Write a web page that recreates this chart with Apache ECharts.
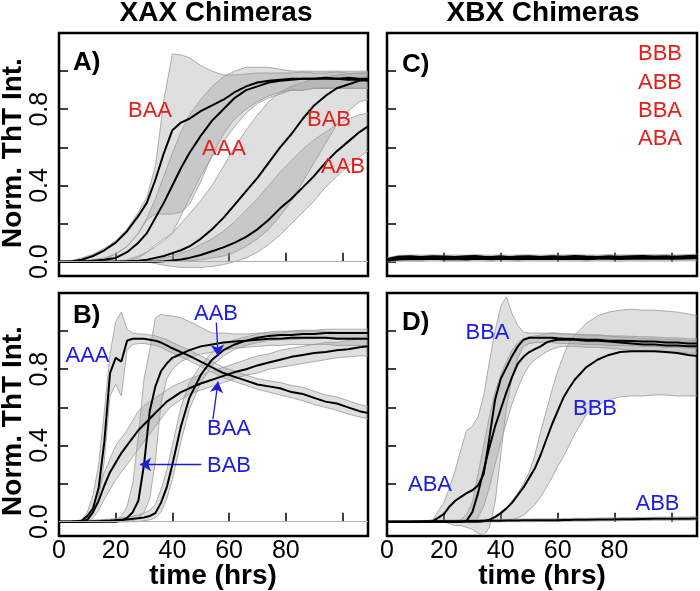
<!DOCTYPE html>
<html>
<head>
<meta charset="utf-8">
<script src="https://cdn.jsdelivr.net/npm/echarts@6/dist/echarts.min.js"></script>
<style>html,body{margin:0;padding:0;background:#fff}#c{width:700px;height:591px}</style>
</head>
<body>
<div id="c"></div>
<script>
// ---------- tick values ----------
const xTicks = [0, 20, 40, 60, 80, 100];
const xLabels = [0, 20, 40, 60, 80];
const yTicks = [0, 0.2, 0.4, 0.6, 0.8, 1.0];
const yLabels = [0, 0.4, 0.8];

// ---------- Panel A (XAX, red labels) ----------
const hoursA = [0,4,8,12,16,20,24,28,31,34,37,40,43,46,50,54,58,62,66,70,74,78,82,86,90,94,98,102,106,109];
const aBAA   = [0,0,0.01,0.03,0.06,0.10,0.16,0.24,0.31,0.43,0.57,0.69,0.73,0.75,0.79,0.82,0.85,0.89,0.92,0.94,0.95,0.955,0.96,0.96,0.96,0.965,0.96,0.965,0.96,0.96];
const aBAAlo = [0,0,0,0.005,0.01,0.04,0.08,0.15,0.22,0.25,0.25,0.25,0.26,0.30,0.42,0.56,0.67,0.75,0.80,0.84,0.87,0.89,0.90,0.90,0.91,0.91,0.91,0.91,0.91,0.91];
const aBAAhi = [0,0.005,0.02,0.04,0.07,0.11,0.17,0.26,0.34,0.50,0.85,1.09,1.085,1.07,1.03,1.0,0.98,0.98,0.985,0.99,0.99,0.99,0.99,0.995,0.99,0.99,0.995,0.99,0.99,0.99];
const aAAA   = [0,0,0,0.005,0.01,0.02,0.05,0.10,0.15,0.23,0.31,0.40,0.49,0.57,0.66,0.74,0.80,0.86,0.90,0.92,0.94,0.95,0.955,0.96,0.96,0.96,0.96,0.955,0.955,0.95];
const aAAAlo = [0,0,0,0,0,0,0,0.02,0.05,0.09,0.12,0.15,0.24,0.33,0.45,0.55,0.63,0.71,0.78,0.83,0.86,0.88,0.90,0.90,0.91,0.91,0.91,0.91,0.91,0.91];
const aAAAhi = [0,0,0.005,0.01,0.02,0.04,0.08,0.15,0.23,0.33,0.45,0.57,0.68,0.77,0.85,0.92,0.97,1.0,1.02,1.02,1.02,1.01,1.0,1.0,1.0,1.0,1.0,1.0,1.0,1.0];
const aBAB   = [0,0,0,0,0,0,0.002,0.005,0.01,0.02,0.03,0.045,0.06,0.08,0.12,0.17,0.23,0.30,0.37,0.44,0.52,0.60,0.67,0.75,0.82,0.87,0.91,0.93,0.95,0.955];
const aBABlo = [0,0,0,0,0,0,0,0,0,0,0,0,0.002,0.005,0.01,0.02,0.03,0.05,0.08,0.12,0.17,0.24,0.32,0.42,0.52,0.62,0.72,0.79,0.84,0.85];
const aBABhi = [0,0,0,0,0,0,0.01,0.03,0.05,0.08,0.11,0.15,0.2,0.25,0.32,0.40,0.50,0.60,0.69,0.77,0.84,0.89,0.92,0.94,0.96,0.97,0.98,0.985,0.99,0.99];
const aAAB   = [0,0,0,0,0,0,0,0,0,0,0.003,0.007,0.012,0.02,0.035,0.055,0.075,0.10,0.13,0.17,0.22,0.28,0.33,0.39,0.45,0.52,0.58,0.63,0.68,0.71];
const aAABlo = [0,0,0,0,0,0,0,0,0,-0.01,-0.018,-0.025,-0.03,-0.03,-0.03,-0.025,-0.015,0,0.02,0.05,0.09,0.14,0.2,0.26,0.32,0.39,0.45,0.5,0.55,0.58];
const aAABhi = [0,0,0,0,0,0,0,0,0.005,0.01,0.02,0.03,0.045,0.06,0.09,0.12,0.16,0.21,0.27,0.33,0.40,0.47,0.53,0.59,0.64,0.68,0.72,0.75,0.77,0.78];

// ---------- Panel C (XBX, flat) ----------
const cBBB = [0.014,0.026,0.028,0.025,0.029,0.027,0.025,0.028,0.03,0.026,0.025,0.028,0.024,0.027,0.029,0.025,0.028,0.026,0.03,0.027,0.025,0.029,0.026,0.028,0.03,0.027,0.029,0.026,0.03,0.031];
const cABB = [0.006,0.012,0.014,0.013,0.015,0.013,0.014,0.012,0.015,0.014,0.013,0.015,0.014,0.013,0.015,0.014,0.016,0.014,0.015,0.013,0.015,0.016,0.014,0.015,0.016,0.015,0.017,0.016,0.017,0.018];
const cBBA = [0.01,0.021,0.022,0.024,0.022,0.023,0.021,0.023,0.024,0.022,0.023,0.024,0.023,0.022,0.024,0.023,0.023,0.025,0.024,0.023,0.025,0.024,0.023,0.025,0.024,0.025,0.024,0.026,0.025,0.026];
const cABA = [0.008,0.017,0.019,0.018,0.02,0.019,0.021,0.019,0.02,0.021,0.019,0.02,0.019,0.021,0.02,0.019,0.021,0.02,0.021,0.02,0.022,0.021,0.02,0.022,0.021,0.022,0.021,0.022,0.023,0.023];
const cLo  = [0,0.002,0.003,0.002,0.004,0.003,0.002,0.003,0.004,0.003,0.002,0.004,0.003,0.002,0.004,0.003,0.003,0.004,0.003,0.002,0.004,0.003,0.003,0.004,0.003,0.004,0.003,0.004,0.004,0.005];
const cHi  = [0.02,0.033,0.035,0.034,0.036,0.034,0.035,0.034,0.037,0.035,0.034,0.036,0.034,0.035,0.036,0.034,0.036,0.035,0.037,0.035,0.034,0.037,0.035,0.036,0.037,0.036,0.037,0.035,0.038,0.039];

// ---------- Panel B (XAX, blue labels) ----------
const hoursB = [0,4,8,10,12,14,16,18,20,22,24,26,28,30,32,34,36,38,40,43,46,50,54,58,62,66,70,74,78,82,86,90,94,98,102,106,109];
const bAAA   = [0,0,0.005,0.03,0.07,0.18,0.42,0.78,0.86,0.84,0.95,0.96,0.96,0.96,0.955,0.95,0.94,0.925,0.91,0.89,0.87,0.84,0.81,0.78,0.76,0.74,0.72,0.71,0.70,0.68,0.67,0.65,0.63,0.62,0.60,0.58,0.57];
const bAAAlo = [0,0,0,0.01,0.04,0.12,0.32,0.66,0.72,0.66,0.9,0.93,0.935,0.935,0.93,0.925,0.915,0.9,0.885,0.865,0.845,0.815,0.785,0.755,0.735,0.715,0.695,0.68,0.665,0.65,0.635,0.615,0.6,0.585,0.565,0.55,0.54];
const bAAAhi = [0,0,0.01,0.05,0.14,0.3,0.58,0.88,1.05,1.1,1.01,0.99,0.985,0.985,0.98,0.975,0.965,0.955,0.94,0.92,0.9,0.87,0.84,0.81,0.79,0.77,0.75,0.74,0.73,0.715,0.705,0.685,0.665,0.655,0.635,0.615,0.605];
const bBAB   = [0,0,0,0,0,0,0,0,0,0.005,0.02,0.05,0.11,0.30,0.58,0.71,0.79,0.83,0.86,0.88,0.90,0.92,0.93,0.94,0.945,0.95,0.955,0.96,0.96,0.965,0.965,0.965,0.965,0.96,0.96,0.96,0.96];
const bBABlo = [0,0,0,0,0,0,0,0,0,0,0,0.005,0.02,0.05,0.12,0.32,0.62,0.75,0.8,0.84,0.86,0.88,0.89,0.9,0.91,0.915,0.92,0.925,0.925,0.93,0.93,0.93,0.93,0.925,0.925,0.925,0.925];
const bBABhi = [0,0,0,0,0,0,0,0,0.01,0.03,0.08,0.2,0.45,0.75,0.9,1.07,1.09,1.08,1.08,1.07,1.05,1.02,0.99,0.99,0.985,0.985,0.99,0.99,0.99,1.0,1.0,1.0,1.0,0.995,0.995,0.995,0.995];
const bAAB   = [0,0,0,0,0.002,0.003,0.005,0.006,0.008,0.01,0.012,0.015,0.018,0.022,0.03,0.045,0.1,0.18,0.3,0.5,0.65,0.77,0.85,0.9,0.93,0.95,0.965,0.975,0.98,0.98,0.985,0.985,0.99,0.99,0.99,0.99,0.99];
const bAABlo = [0,0,0,0,0,0,0,0,0,0,0,0,0,0.005,0.01,0.02,0.05,0.12,0.22,0.42,0.59,0.73,0.82,0.87,0.905,0.925,0.94,0.95,0.955,0.955,0.96,0.96,0.965,0.965,0.965,0.965,0.965];
const bAABhi = [0,0,0,0.005,0.008,0.01,0.012,0.014,0.016,0.02,0.025,0.03,0.035,0.045,0.06,0.09,0.17,0.27,0.4,0.6,0.73,0.82,0.89,0.93,0.955,0.97,0.985,0.995,1.0,1.0,1.005,1.005,1.01,1.01,1.01,1.01,1.01];
const bBAA   = [0,0,0,0.01,0.05,0.11,0.19,0.26,0.31,0.36,0.40,0.44,0.48,0.51,0.54,0.57,0.60,0.63,0.65,0.68,0.70,0.725,0.745,0.765,0.785,0.80,0.82,0.835,0.85,0.865,0.875,0.885,0.89,0.9,0.905,0.915,0.92];
const bBAAlo = [0,0,0,0,0.02,0.06,0.12,0.17,0.22,0.26,0.3,0.34,0.38,0.42,0.46,0.5,0.54,0.58,0.61,0.64,0.67,0.69,0.71,0.73,0.75,0.77,0.78,0.8,0.81,0.82,0.83,0.84,0.85,0.86,0.865,0.87,0.87];
const bBAAhi = [0,0,0,0.02,0.08,0.17,0.26,0.33,0.4,0.44,0.48,0.53,0.58,0.61,0.63,0.65,0.67,0.69,0.71,0.73,0.75,0.77,0.79,0.81,0.83,0.85,0.87,0.88,0.9,0.91,0.92,0.93,0.94,0.94,0.95,0.96,0.96];

// ---------- Panel D (XBX, blue labels) ----------
const hoursD = [0,4,8,12,16,20,22,24,26,28,30,32,34,36,38,40,42,44,46,48,50,52,54,56,58,60,62,64,66,70,74,78,82,86,90,94,98,102,106,109];
const dABA   = [0,0,0,0,0.002,0.04,0.08,0.11,0.13,0.15,0.165,0.19,0.25,0.44,0.64,0.75,0.81,0.87,0.92,0.955,0.965,0.965,0.965,0.965,0.965,0.962,0.96,0.96,0.958,0.955,0.955,0.95,0.95,0.948,0.945,0.945,0.94,0.94,0.935,0.935];
const dABAlo = [0,0,0,0,0,0,-0.01,-0.02,-0.02,-0.03,-0.04,-0.06,-0.07,-0.03,0.1,0.35,0.6,0.76,0.86,0.92,0.935,0.94,0.94,0.94,0.94,0.937,0.935,0.935,0.933,0.93,0.93,0.925,0.925,0.923,0.92,0.92,0.915,0.915,0.91,0.91];
const dABAhi = [0,0,0,0,0.01,0.1,0.18,0.27,0.38,0.48,0.5,0.55,0.66,0.84,1.0,1.13,1.18,1.09,1.03,0.995,0.99,0.99,0.99,0.99,0.99,0.987,0.985,0.985,0.983,0.98,0.98,0.975,0.975,0.973,0.97,0.97,0.965,0.965,0.96,0.96];
const dBBA   = [0,0,0,0,0,0,0,0,0,0.005,0.05,0.15,0.27,0.39,0.50,0.59,0.68,0.76,0.83,0.865,0.89,0.905,0.92,0.94,0.95,0.955,0.955,0.955,0.955,0.95,0.95,0.945,0.94,0.935,0.93,0.93,0.925,0.925,0.92,0.92];
const dBBAlo = [0,0,0,0,0,0,0,0,0,0,0,0.02,0.08,0.18,0.3,0.42,0.52,0.62,0.7,0.77,0.82,0.85,0.87,0.89,0.905,0.915,0.92,0.92,0.92,0.915,0.915,0.91,0.905,0.9,0.895,0.895,0.89,0.89,0.885,0.885];
const dBBAhi = [0,0,0,0,0,0,0,0,0.01,0.04,0.1,0.25,0.4,0.55,0.68,0.77,0.84,0.9,0.94,0.96,0.97,0.975,0.98,0.985,0.99,0.99,0.985,0.985,0.985,0.98,0.98,0.975,0.97,0.965,0.96,0.96,0.955,0.955,0.95,0.95];
const dBBB   = [0,0,0,0,0,0,0,0,0,0,0,0,0.003,0.01,0.025,0.045,0.07,0.1,0.14,0.18,0.23,0.28,0.35,0.43,0.51,0.58,0.65,0.70,0.745,0.81,0.85,0.875,0.89,0.895,0.895,0.895,0.89,0.885,0.875,0.87];
const dBBBlo = [0,0,0,0,0,0,0,0,0,0,0,0,0,0,0,0,0.005,0.01,0.02,0.035,0.06,0.09,0.13,0.18,0.23,0.29,0.34,0.4,0.46,0.56,0.61,0.64,0.655,0.66,0.66,0.665,0.665,0.66,0.66,0.66];
const dBBBhi = [0,0,0,0,0,0,0,0,0,0,0,0,0.005,0.01,0.02,0.04,0.07,0.11,0.15,0.2,0.26,0.35,0.47,0.58,0.69,0.79,0.87,0.94,0.98,1.04,1.08,1.1,1.11,1.115,1.11,1.11,1.105,1.1,1.09,1.08];
const dABB   = [0,0,0,0.001,0.002,0.002,0.003,0.003,0.003,0.004,0.004,0.004,0.005,0.005,0.005,0.005,0.006,0.006,0.006,0.007,0.007,0.007,0.008,0.008,0.008,0.008,0.009,0.009,0.01,0.01,0.011,0.012,0.013,0.013,0.014,0.015,0.015,0.016,0.016,0.017];
const dABBlo = [0,0,0,0,0,0,0,0,0,0,0,0,0,0,0,0,0,0,0,0,0,0,0.001,0.001,0.001,0.001,0.002,0.002,0.003,0.003,0.004,0.005,0.005,0.006,0.006,0.007,0.007,0.008,0.008,0.009];
const dABBhi = [0,0.002,0.004,0.006,0.008,0.008,0.009,0.009,0.01,0.01,0.011,0.011,0.012,0.012,0.012,0.013,0.013,0.013,0.014,0.014,0.014,0.015,0.015,0.015,0.016,0.016,0.017,0.017,0.018,0.018,0.019,0.02,0.021,0.022,0.022,0.023,0.024,0.024,0.025,0.026];

// ---------- annotation arrows (data coords, panel B) ----------
const arrowsB = [
  [[55.5, 1.045], [56.1, 0.87]],
  [[54.3, 0.537], [56.1, 0.735]],
  [[50.2, 0.30], [28.6, 0.30]]
];

// ---------- build ----------
const FONT = 'Liberation Sans, Arial, Helvetica, sans-serif';
const RED = '#e3211c';
const BLUE = '#1c1ce0';
const panels = [
  {left: 59, top: 33, width: 309, height: 243},   // A
  {left: 387, top: 33, width: 310, height: 243},  // C
  {left: 59, top: 293, width: 309, height: 243},  // B
  {left: 387, top: 293, width: 310, height: 243}  // D
];
const grids = panels.map(p => Object.assign({show: true, borderColor: '#000', borderWidth: 2.5, backgroundColor: 'transparent'}, p));
const xAxes = panels.map((p, i) => ({
  type: 'value', gridIndex: i, min: 0, max: 109,
  axisLine: {show: false}, splitLine: {show: false},
  axisTick: {show: true, inside: true, length: 9, lineStyle: {color: '#000', width: 1.5}, customValues: xTicks},
  axisLabel: {show: i >= 2, customValues: xLabels, fontSize: 25, color: '#000', fontFamily: FONT, margin: 3}
}));
const yAxes = panels.map((p, i) => ({
  type: 'value', gridIndex: i, min: -0.075, max: 1.2,
  axisLine: {show: false}, splitLine: {show: false},
  axisTick: {show: true, inside: true, length: 9, lineStyle: {color: '#000', width: 1.5}, customValues: yTicks},
  axisLabel: {show: i === 0 || i === 2, customValues: yLabels, rotate: 90, fontSize: 25, color: '#000', fontFamily: FONT, margin: 6,
    formatter: v => Number(v).toFixed(1)}
}));

const bandSeries = [];
const meanSeries = [];
function pairs(x, y) { return x.map((t, i) => [t, y[i]]); }
function addBand(g, x, lo, hi) {
  bandSeries.push({
    type: 'custom', xAxisIndex: g, yAxisIndex: g, silent: true, z: 1,
    data: x.map((t, i) => [t, lo[i], hi[i]]),
    encode: {x: 0, y: [1, 2]},
    renderItem: function (params, api) {
      if (params.dataIndex !== 0) return null;
      const up = x.map((t, i) => api.coord([t, hi[i]]));
      const dn = x.map((t, i) => api.coord([t, lo[i]]));
      const poly = up.concat(dn.slice().reverse());
      return {type: 'group', children: [
        {type: 'polygon', shape: {points: poly}, style: {fill: 'rgba(150,150,150,0.3)', stroke: null}},
        {type: 'polyline', shape: {points: up}, style: {fill: null, stroke: '#9a9a9a', lineWidth: 0.8}},
        {type: 'polyline', shape: {points: dn}, style: {fill: null, stroke: '#9a9a9a', lineWidth: 0.8}}
      ]};
    }
  });
}
function addMean(g, x, y, w) {
  meanSeries.push({type: 'line', xAxisIndex: g, yAxisIndex: g, symbol: 'none', silent: true,
    lineStyle: {color: '#000', width: w || 2}, data: pairs(x, y), z: 3});
}
// A
addBand(0, hoursA, aBAAlo, aBAAhi); addBand(0, hoursA, aAAAlo, aAAAhi);
addBand(0, hoursA, aBABlo, aBABhi); addBand(0, hoursA, aAABlo, aAABhi);
addMean(0, hoursA, aBAA); addMean(0, hoursA, aAAA); addMean(0, hoursA, aBAB); addMean(0, hoursA, aAAB);
// C
addBand(1, hoursA, cLo, cHi);
addMean(1, hoursA, cBBB, 2); addMean(1, hoursA, cABB, 2); addMean(1, hoursA, cBBA, 2); addMean(1, hoursA, cABA, 2);
// B
addBand(2, hoursB, bAAAlo, bAAAhi); addBand(2, hoursB, bBABlo, bBABhi);
addBand(2, hoursB, bAABlo, bAABhi); addBand(2, hoursB, bBAAlo, bBAAhi);
addMean(2, hoursB, bAAA); addMean(2, hoursB, bBAB); addMean(2, hoursB, bAAB); addMean(2, hoursB, bBAA);
// D
addBand(3, hoursD, dABAlo, dABAhi); addBand(3, hoursD, dBBAlo, dBBAhi);
addBand(3, hoursD, dBBBlo, dBBBhi); addBand(3, hoursD, dABBlo, dABBhi);
addMean(3, hoursD, dABA); addMean(3, hoursD, dBBA); addMean(3, hoursD, dBBB); addMean(3, hoursD, dABB);

// zero reference lines (A, B)
const zeroLines = [0, 2].map(g => ({
  type: 'line', xAxisIndex: g, yAxisIndex: g, data: [], silent: true, z: 2,
  markLine: {silent: true, symbol: 'none', animation: false, label: {show: false},
    lineStyle: {color: '#b0b0b0', width: 1, type: 'solid'}, data: [{yAxis: 0}]}
}));
// arrows (B)
const arrowSeries = {
  type: 'line', xAxisIndex: 2, yAxisIndex: 2, data: [], silent: true, z: 4,
  markLine: {silent: true, symbol: ['none', 'arrow'], symbolSize: [10, 11], animation: false, label: {show: false},
    lineStyle: {color: BLUE, width: 1.3, type: 'solid'},
    data: arrowsB.map(a => [{coord: a[0]}, {coord: a[1]}])}
};

function txt(text, x, y, opt) {
  return Object.assign({type: 'text', x: x, y: y, z: 10, silent: true,
    style: Object.assign({text: text, fill: '#000', fontFamily: FONT, fontSize: 22, align: 'center', verticalAlign: 'middle'}, opt || {})});
}
function rtxt(text, x, y, opt) {
  const t = txt(text, x, y, opt); t.rotation = Math.PI / 2; return t;
}
const bold28 = {fontSize: 28, fontWeight: 'bold'};
const graphics = [
  txt('XAX Chimeras', 216, 13, bold28),
  txt('XBX Chimeras', 543, 13, bold28),
  rtxt('Norm. ThT Int.', 13, 153, bold28),
  rtxt('Norm. ThT Int.', 13, 421, bold28),
  txt('time (hrs)', 213, 576, bold28),
  txt('time (hrs)', 542, 576, bold28),
  txt('A)', 73, 63, {fontSize: 26, fontWeight: 'bold', align: 'left'}),
  txt('B)', 73, 316, {fontSize: 26, fontWeight: 'bold', align: 'left'}),
  txt('C)', 402, 65, {fontSize: 26, fontWeight: 'bold', align: 'left'}),
  txt('D)', 402, 323, {fontSize: 26, fontWeight: 'bold', align: 'left'}),
  txt('BAA', 150, 111, {fill: RED}),
  txt('AAA', 224, 149, {fill: RED}),
  txt('BAB', 329, 120, {fill: RED}),
  txt('AAB', 343, 167, {fill: RED}),
  txt('BBB', 682, 54, {fill: RED, align: 'right'}),
  txt('ABB', 682, 82.5, {fill: RED, align: 'right'}),
  txt('BBA', 682, 111, {fill: RED, align: 'right'}),
  txt('ABA', 682, 139, {fill: RED, align: 'right'}),
  txt('AAA', 87.5, 356, {fill: BLUE}),
  txt('AAB', 216, 314, {fill: BLUE}),
  txt('BAA', 229, 428.5, {fill: BLUE}),
  txt('BAB', 229, 466, {fill: BLUE}),
  txt('BBA', 487.5, 332.5, {fill: BLUE}),
  txt('BBB', 595, 409, {fill: BLUE}),
  txt('ABA', 430, 485, {fill: BLUE}),
  txt('ABB', 657.5, 504, {fill: BLUE})
];

const chart = echarts.init(document.getElementById('c'), null, {renderer: 'canvas'});
chart.setOption({
  animation: false,
  backgroundColor: '#fff',
  textStyle: {fontFamily: FONT},
  grid: grids,
  xAxis: xAxes,
  yAxis: yAxes,
  series: bandSeries.concat(zeroLines, meanSeries, [arrowSeries]),
  graphic: graphics
});
</script>
</body>
</html>
